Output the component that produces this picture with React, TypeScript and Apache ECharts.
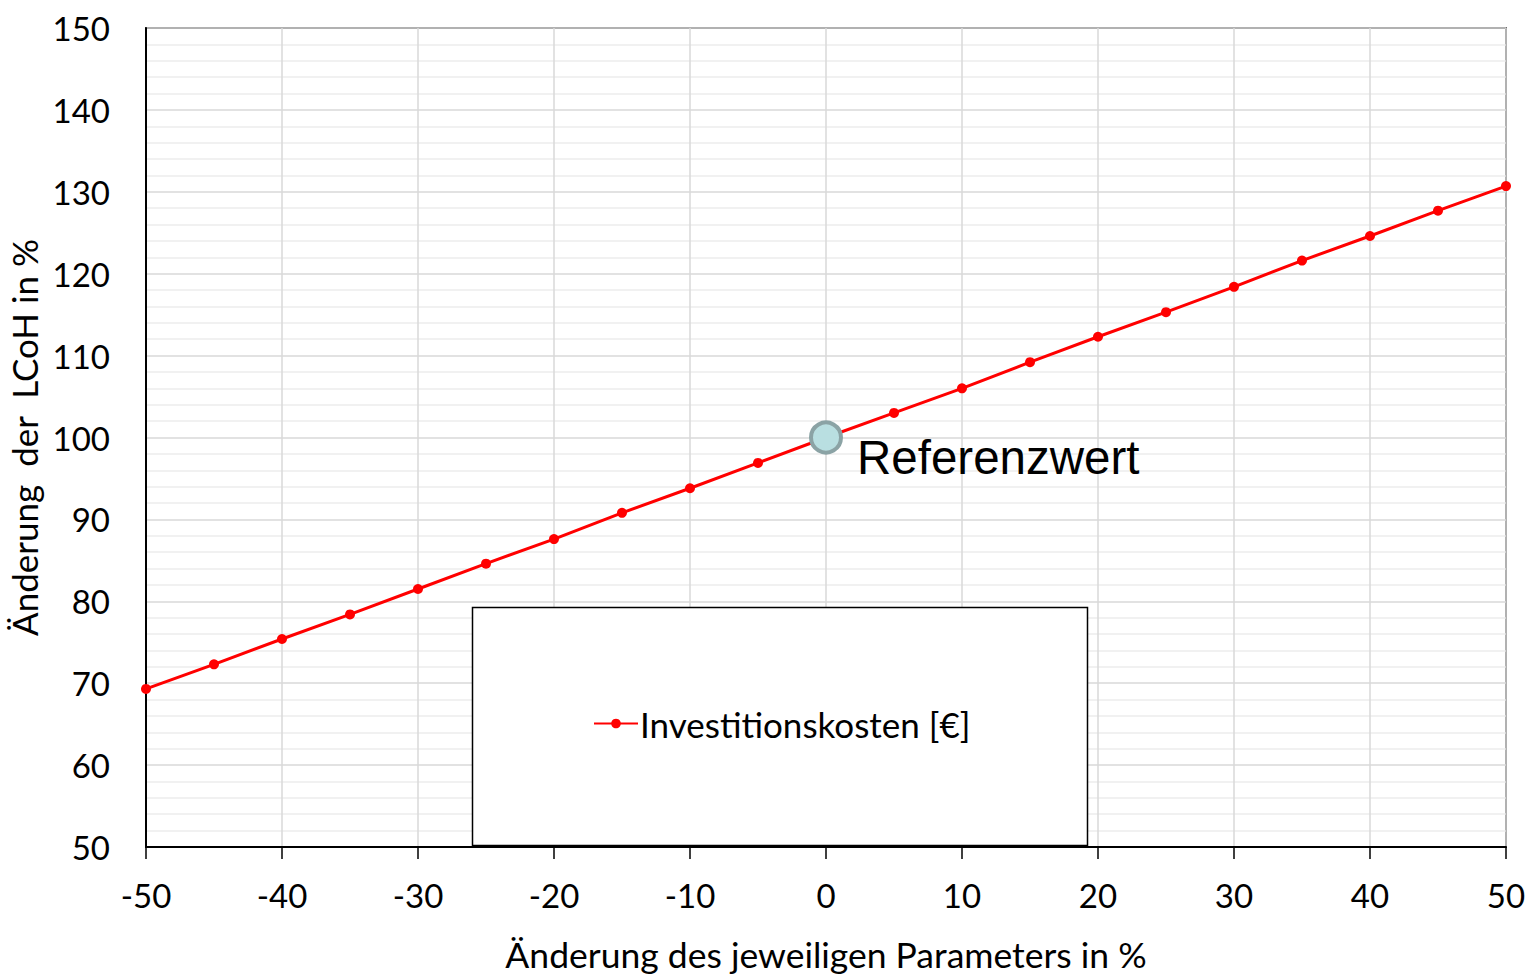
import React, { useEffect, useRef } from "react";
import * as echarts from "echarts";

const xValues = [-50, -45, -40, -35, -30, -25, -20, -15, -10, -5, 0, 5, 10, 15, 20, 25, 30, 35, 40, 45, 50];
const investValues = [69.3, 72.3, 75.4, 78.4, 81.5, 84.6, 87.6, 90.8, 93.8, 96.9, 100, 103.0, 106.0, 109.2, 112.3, 115.3, 118.4, 121.6, 124.6, 127.7, 130.7];
const referencePoint = [0, 100];
const seriesName = "Investitionskosten [€]";
const referenceLabel = "Referenzwert";
const xAxisTitle = "Änderung des jeweiligen Parameters in %";
const yAxisTitle = "Änderung  der  LCoH in %";

const FONT = "Lato, 'Open Sans', sans-serif";

export default function App() {
  const ref = useRef<HTMLDivElement>(null);
  useEffect(() => {
    if (!ref.current) return;
    const chart = echarts.init(ref.current, undefined, { renderer: "svg" });
    const data = xValues.map((x, i) => [x, investValues[i]]);
    chart.setOption({
      animation: false,
      backgroundColor: "#ffffff",
      grid: {
        left: 146,
        right: 24,
        top: 28,
        bottom: 129,
        containLabel: false,
        outerBoundsMode: "none",
        show: true,
        borderColor: "#000000",
        borderWidth: 1.5,
        backgroundColor: "transparent",
      },
      xAxis: {
        type: "value",
        min: -50,
        max: 50,
        interval: 10,
        name: xAxisTitle,
        nameLocation: "middle",
        nameGap: 89,
        nameTextStyle: { fontFamily: FONT, fontSize: 35.5, color: "#000" },
        axisLine: { show: true, onZero: false, lineStyle: { color: "#000", width: 2 } },
        axisTick: { show: true, inside: false, length: 12, lineStyle: { color: "#000", width: 1.5 } },
        axisLabel: { margin: 31, fontFamily: FONT, fontSize: 33, color: "#000" },
        splitLine: { show: true, lineStyle: { color: "#d9d9d9", width: 1.5 } },
      },
      yAxis: {
        type: "value",
        min: 50,
        max: 150,
        interval: 10,
        name: yAxisTitle,
        nameLocation: "middle",
        nameGap: 100,
        nameTextStyle: { fontFamily: FONT, fontSize: 35, color: "#000" },
        axisLine: { show: true, onZero: false, lineStyle: { color: "#000", width: 2 } },
        axisTick: { show: false },
        axisLabel: { margin: 36, fontFamily: FONT, fontSize: 33, color: "#000" },
        splitLine: { show: true, lineStyle: { color: "#d9d9d9", width: 1.5 } },
        minorTick: { show: false, splitNumber: 5 },
        minorSplitLine: { show: true, lineStyle: { color: "#ececec", width: 1.5 } },
      },
      legend: {
        show: true,
        left: 593,
        top: 706,
        z: 10,
        itemWidth: 44,
        itemHeight: 12,
        itemGap: 4,
        padding: 0,
        textStyle: { fontFamily: FONT, fontSize: 35, color: "#000", padding: [0, 0, 0, -3] },
        data: [seriesName],
      },
      graphic: [
        {
          type: "rect",
          z: 5,
          shape: { x: 472.5, y: 607.5, width: 615, height: 238 },
          style: { fill: "#ffffff", stroke: "#000000", lineWidth: 1.5 },
        },
      ],
      series: [
        {
          name: seriesName,
          type: "line",
          data,
          symbol: "circle",
          symbolSize: 10,
          itemStyle: { color: "#ff0000" },
          lineStyle: { color: "#ff0000", width: 3 },
          z: 3,
        },
        {
          name: referenceLabel,
          type: "scatter",
          data: [referencePoint],
          symbol: "circle",
          symbolSize: 30,
          itemStyle: { color: "#b9dfe1", borderColor: "#8ba3a5", borderWidth: 4, opacity: 1 },
          label: {
            show: true,
            formatter: referenceLabel,
            position: "right",
            offset: [9, 20],
            fontFamily: "'Liberation Sans', Arial, sans-serif",
            fontSize: 47.5,
            color: "#000",
          },
          z: 4,
        },
      ],
    });
    return () => chart.dispose();
  }, []);
  return (
    <div
      ref={ref}
      style={{ position: "fixed", left: 0, top: 0, width: 1530, height: 976, background: "#fff" }}
    />
  );
}
